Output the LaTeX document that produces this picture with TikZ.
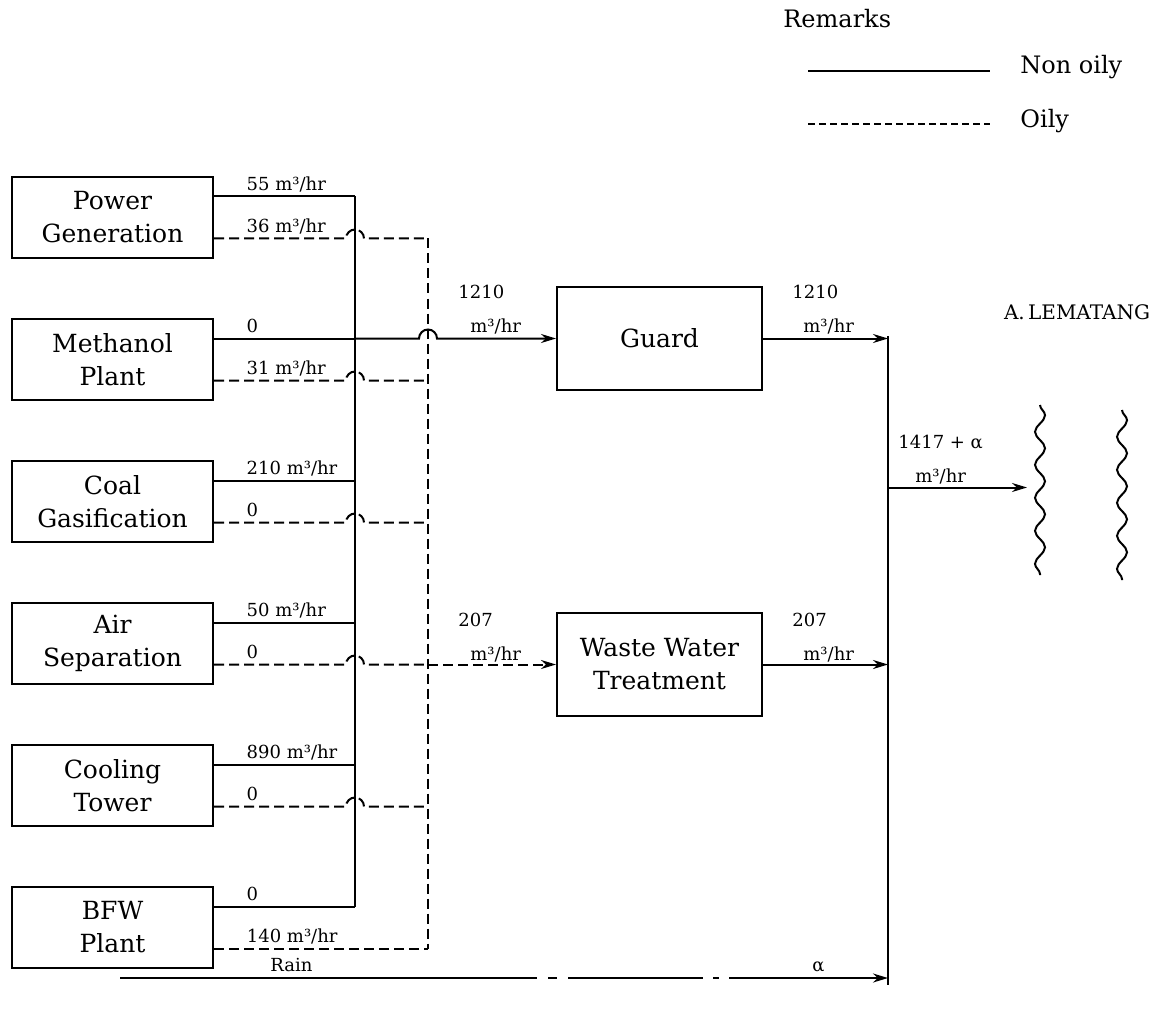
\documentclass[tikz,border=0pt]{standalone}
\usepackage{fontspec}
\setmainfont{DejaVu Serif}
\usetikzlibrary{arrows.meta, positioning, calc, decorations.pathmorphing}

\tikzset{
  unit/.style={draw, line width=1pt, minimum width=100.5pt, minimum height=40.5pt,
    align=center, inner sep=0pt, font=\fontsize{12.5}{16.5}\selectfont},
  plant/.style={unit, minimum width=102.5pt, minimum height=51.5pt},
  flow/.style={line width=1pt},
  oily/.style={line width=1pt, dash pattern=on 5pt off 2.5pt},
  lbl/.style={font=\fontsize{9}{11}\selectfont, inner sep=0pt, anchor=base west, yshift=3pt},
  qty/.style={font=\fontsize{9}{17}\selectfont, align=left, inner sep=0pt, anchor=north west},
  legtxt/.style={font=\fontsize{12}{14}\selectfont, inner sep=0pt, anchor=base west},
  tip/.style={-{Stealth[length=7.5pt,width=4.5pt]}},
  wave/.style={line width=1pt, decorate, decoration={snake, segment length=16.5pt, amplitude=2.5pt}},
}

\begin{document}
\begin{tikzpicture}[x=0.5pt, y=-0.5pt]
\useasboundingbox (0,0) rectangle (1154,1010);

% legend
\node[legtxt] (remarks) at (783,28) {Remarks};
\node[legtxt] (nonoily) at (1020,74) {Non oily};
\node[legtxt] (oilytxt) at (1020,128) {Oily};
\draw[flow] (808,71) -- (990,71);
\draw[oily, dash pattern=on 3.5pt off 2pt] (808,124) -- (990,124);

% sources
\foreach \nm/\yy/\txt in {pg/217.5/{Power\\Generation}, mp/359.5/{Methanol\\Plant},
    cg/501.5/{Coal\\Gasification}, as/643.5/{Air\\Separation},
    ct/785.5/{Cooling\\Tower}, bfw/927.5/{BFW\\Plant}}
  \node[unit] (\nm) at (112.5,\yy) {\txt};

\node[plant] (guard) at (659.5,338.5) {Guard};
\node[plant] (wwt) at (659.5,664.5) {Waste Water\\Treatment};

\coordinate (stop) at (355,196.5);
\coordinate (dtop) at (428,238.5);
\coordinate (rtop) at (888,336);
\coordinate (rbot) at (888,985);
\coordinate (river) at (1027,487.5);
\coordinate (rain) at (120,978);

% lines out of the units, hop over the non oily header
\foreach \nm/\sq/\oq in {pg/{55 m³/hr}/{36 m³/hr}, mp/0/{31 m³/hr},
    cg/{210 m³/hr}/0, as/{50 m³/hr}/0, ct/{890 m³/hr}/0}{
  \draw[flow] ([yshift=10.5pt]\nm.east) coordinate (s\nm) -- (s\nm -| stop)
    node[lbl, pos=0.225] {\sq};
  \draw[oily] ([yshift=-10.5pt]\nm.east) coordinate (o\nm) -- ($(o\nm -| stop)+(-9,0)$)
    node[lbl, pos=0.24] {\oq}
    arc[start angle=180, end angle=0, radius=4.5pt] -- (o\nm -| dtop);
}
\draw[flow] ([yshift=10.5pt]bfw.east) coordinate (sbfw) -- (sbfw -| stop)
  node[lbl, pos=0.225] {0};
\draw[oily] ([yshift=-10.5pt]bfw.east) coordinate (obfw) -- (obfw -| dtop)
  node[lbl, pos=0.149] {140 m³/hr};

% headers
\draw[flow] (stop) -- (sbfw -| stop);
\draw[oily] (dtop) -- (obfw -| dtop);
\draw[flow, tip] (smp -| stop) -- ($(smp -| dtop)+(-9,0)$)
  arc[start angle=180, end angle=0, radius=4.5pt] -- (guard.west);
\draw[oily, tip] (oas -| dtop) -- (wwt.west);

\node[qty] (q1) at (458,285) {1210\\\hspace*{6pt}m³/hr};
\node[qty] (q2) at (458,613) {207\\\hspace*{6pt}m³/hr};
\node[qty] (q3) at (792,285) {1210\\\hspace*{5.5pt}m³/hr};
\node[qty] (q4) at (792,613) {207\\\hspace*{5.5pt}m³/hr};
\node[qty] (q5) at (898,435) {1417 + α\\\hspace*{8.5pt}m³/hr};

% to the river
\draw[flow, tip] (guard.east) -- (guard.east -| rtop);
\draw[flow, tip] (wwt.east) -- (wwt.east -| rtop);
\draw[flow] (rtop) -- (rbot);
\draw[flow, tip] (river -| rtop) -- (river);
\draw[flow, tip, dash pattern=on 208.5pt off 5.5pt on 4.5pt off 5.5pt on 67.5pt off 5pt on 3pt off 5pt on 200pt]
  (rain) -- (rain -| rtop);
\node[lbl, yshift=-3pt] (rainlbl) at (270,971) {Rain};
\node[lbl, yshift=-3pt] (alpha) at (812,971) {α};

\draw[wave] (1040,405) -- (1040,575);
\draw[wave] (1122,410) -- (1122,580);
\node[font=\fontsize{10}{12}\selectfont] (lematang) at (1077,312) {A.\,LEMATANG};
\end{tikzpicture}
\end{document}
